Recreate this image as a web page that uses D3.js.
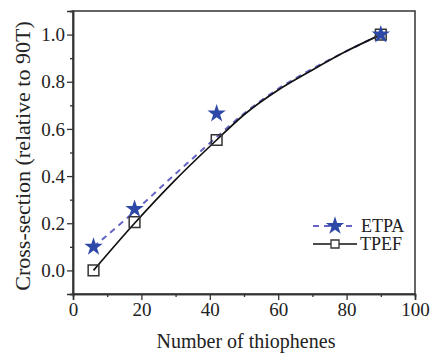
<!DOCTYPE html>
<html lang="en">
<head>
  <meta charset="UTF-8">
  <title>Cross-section vs number of thiophenes</title>
  <script src="https://d3js.org/d3.v7.min.js"></script>
  <style>
    body { margin: 0; background: #fff; }
  </style>
</head>
<body>
<svg id="chart" width="431" height="353"></svg>
<script>
  // measured points
  const thiophenes = [6, 18, 42, 90];
  const etpa = [0.10, 0.26, 0.665, 1.0];
  const tpef = [0.0, 0.205, 0.553, 1.0];

  // fitted curves
  const fitX = [6, 18, 30, 42, 50, 60, 70, 80, 90];
  const etpaFit = [0.10, 0.25, 0.41, 0.565, 0.665, 0.77, 0.855, 0.93, 1.0];
  const tpefFit = [0.0, 0.20, 0.385, 0.553, 0.66, 0.765, 0.85, 0.93, 1.0];

  const xTicks = [0, 20, 40, 60, 80, 100];
  const yTicks = [0.0, 0.2, 0.4, 0.6, 0.8, 1.0];

  const svg = d3.select("#chart");
  const plot = { left: 73, right: 415, top: 11, bottom: 294 };
  const serif = "Liberation Serif";

  const x = d3.scaleLinear().domain([0, 100]).range([plot.left, plot.right]);
  const y = d3.scaleLinear().domain([-0.1, 1.1]).range([plot.bottom, plot.top]);

  // frame
  svg.append("rect")
    .attr("x", plot.left).attr("y", plot.top)
    .attr("width", plot.right - plot.left).attr("height", plot.bottom - plot.top)
    .attr("fill", "none").attr("stroke", "#333").attr("stroke-width", 1.5);

  // x axis (major + minor)
  const xAxis = svg.append("g").attr("transform", `translate(0,${plot.bottom})`);
  xAxis.append("g").call(d3.axisBottom(x).tickValues(d3.range(10, 100, 20)).tickSize(3).tickFormat(""));
  xAxis.append("g").call(d3.axisBottom(x).tickValues(xTicks).tickSize(6).tickPadding(3).tickFormat(d3.format("d")));
  xAxis.selectAll(".domain").attr("stroke", "#333").attr("stroke-width", 1.5);
  xAxis.selectAll("line").attr("stroke", "#333").attr("stroke-width", 1.3);
  xAxis.selectAll("text").attr("font-family", serif).attr("font-size", 19).attr("fill", "#222");

  // y axis
  const yAxis = svg.append("g").attr("transform", `translate(${plot.left},0)`);
  yAxis.append("g").call(d3.axisLeft(y).tickValues(d3.range(-0.1, 1.11, 0.2)).tickSize(3).tickFormat(""));
  yAxis.append("g").call(d3.axisLeft(y).tickValues(yTicks).tickSize(6).tickPadding(2).tickFormat(d3.format(".1f")));
  yAxis.selectAll(".domain").attr("stroke", "#333").attr("stroke-width", 1.5);
  yAxis.selectAll("line").attr("stroke", "#333").attr("stroke-width", 1.3);
  yAxis.selectAll("text").attr("font-family", serif).attr("font-size", 19).attr("fill", "#222");

  // axis titles
  svg.append("text")
    .attr("x", 246).attr("y", 348)
    .attr("text-anchor", "middle")
    .attr("font-family", serif).attr("font-size", 20).attr("fill", "#222")
    .text("Number of thiophenes");

  svg.append("text")
    .attr("transform", "translate(30,156) rotate(-90)")
    .attr("text-anchor", "middle")
    .attr("font-family", serif).attr("font-size", 22).attr("fill", "#222")
    .text("Cross-section (relative to 90T)");

  const line = d3.line().x(d => x(d[0])).y(d => y(d[1])).curve(d3.curveMonotoneX);

  const etpaColor = "#6464c4", starColor = "#2e48a8";

  // fitted curves
  svg.append("path")
    .datum(d3.zip(fitX, etpaFit))
    .attr("d", line)
    .attr("fill", "none").attr("stroke", etpaColor)
    .attr("stroke-width", 2).attr("stroke-dasharray", "6,5");

  svg.append("path")
    .datum(d3.zip(fitX, tpefFit))
    .attr("d", line)
    .attr("fill", "none").attr("stroke", "#111").attr("stroke-width", 1.7);

  // markers
  const star = d3.symbol().type(d3.symbolStar).size(105);
  const square = d3.symbol().type(d3.symbolSquare).size(115);

  svg.append("g").selectAll("path")
    .data(d3.zip(thiophenes, tpef))
    .join("path")
    .attr("d", square)
    .attr("transform", d => `translate(${x(d[0])},${y(d[1])})`)
    .attr("fill", "none").attr("stroke", "#333").attr("stroke-width", 1.5);

  svg.append("g").selectAll("path")
    .data(d3.zip(thiophenes, etpa))
    .join("path")
    .attr("d", star)
    .attr("transform", d => `translate(${x(d[0])},${y(d[1])})`)
    .attr("fill", starColor);

  // legend
  const legend = svg.append("g");
  legend.append("line")
    .attr("x1", 313).attr("x2", 357).attr("y1", 226).attr("y2", 226)
    .attr("stroke", etpaColor).attr("stroke-width", 2).attr("stroke-dasharray", "6,5");
  legend.append("path").attr("d", star).attr("transform", "translate(335,226)").attr("fill", starColor);
  legend.append("text").attr("x", 361).attr("y", 232)
    .attr("font-family", serif).attr("font-size", 18).attr("fill", "#222").text("ETPA");

  legend.append("line")
    .attr("x1", 313).attr("x2", 357).attr("y1", 244).attr("y2", 244)
    .attr("stroke", "#111").attr("stroke-width", 1.7);
  legend.append("path").attr("d", d3.symbol().type(d3.symbolSquare).size(64))
    .attr("transform", "translate(335,244)")
    .attr("fill", "#fff").attr("stroke", "#333").attr("stroke-width", 1.3);
  legend.append("text").attr("x", 360).attr("y", 250)
    .attr("font-family", serif).attr("font-size", 18).attr("fill", "#222").text("TPEF");
</script>
</body>
</html>
